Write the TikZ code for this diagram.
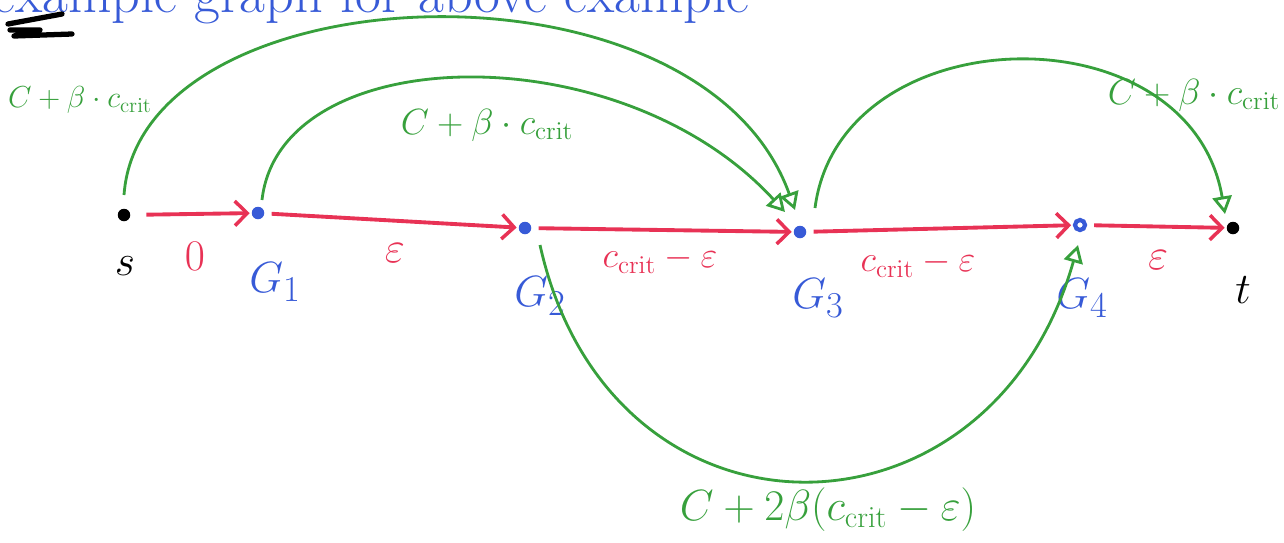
\documentclass[tikz,border=0pt]{standalone}
\usetikzlibrary{arrows.meta}
\definecolor{gr}{RGB}{55,160,60}
\definecolor{rd}{RGB}{232,50,85}
\definecolor{bl}{RGB}{55,90,215}
\begin{document}
\begin{tikzpicture}[x=0.02cm,y=-0.02cm,
  dot/.style={circle,fill,inner sep=0pt,minimum size=0.25cm},
  ring/.style={circle,draw=bl,fill=white,line width=2.4pt,inner sep=0pt,minimum size=0.2cm},
  redarr/.style={rd,line width=2.2pt,-{Straight Barb[length=7pt,width=14pt,line width=2pt]},shorten >=1pt,shorten <=4pt},
  grarr/.style={gr,line width=1.6pt,-{Triangle[open,length=10pt,width=11pt,line width=1.6pt]}},
  lab/.style={font=\Huge},
  elab/.style={font=\fontsize{22}{26}\selectfont},
  glab/.style={gr,font=\huge},
]
\useasboundingbox (0,0) rectangle (1284,542);
\clip (0,0) rectangle (1284,542);
% title (cut off at top, as in the original)
\node[anchor=base west,bl,font=\fontsize{32}{34}\selectfont,inner sep=0pt] (title) at (-8,12) {example graph for above example};
\draw[black,line width=3pt,line cap=round,line join=round] (8,24) -- (62,14) (10,30) -- (40,30) -- (14,36) -- (72,34);
% vertices
\node[dot,black] (s) at (124,215) {};
\node[dot,bl] (G1) at (258,213) {};
\node[dot,bl] (G2) at (525,228) {};
\node[dot,bl] (G3) at (800,232) {};
\node[ring] (G4) at (1080,225) {};
\node[dot,black] (t) at (1233,228) {};
% vertex labels
\node[lab] (ls) at (125,266) {$s$};
\node[lab,bl] (lG1) at (275,282) {$G_1$};
\node[lab,bl] (lG2) at (540,296) {$G_2$};
\node[lab,bl] (lG3) at (818,298) {$G_3$};
\node[lab,bl] (lG4) at (1082,298) {$G_4$};
\node[lab] (lt) at (1243,290) {$t$};
% red edges
\draw[redarr,shorten <=9pt] (s) -- (G1);
\draw[redarr] (G1) -- (G2);
\draw[redarr] (G2) -- (G3);
\draw[redarr] (G3) -- (G4);
\draw[redarr] (G4) -- (t);
\node[lab,rd] (e1) at (195,256) {$0$};
\node[lab,rd] (e2) at (395,253) {$\varepsilon$};
\node[elab,rd] (e3) at (660,260) {$c_{\mathrm{crit}}-\varepsilon$};
\node[elab,rd] (e4) at (918,264) {$c_{\mathrm{crit}}-\varepsilon$};
\node[lab,rd] (e5) at (1158,260) {$\varepsilon$};
% green edges
\draw[grarr] ([shift={(0,-20)}]s.center) .. controls +(16,-225) and +(-95,-265) .. ([shift={(-5,-22)}]G3.center);
\draw[grarr] ([shift={(4,-13)}]G1.center) .. controls +(18,-160) and +(-165,-180) .. ([shift={(-15,-20)}]G3.center);
\draw[grarr] ([shift={(15,-24)}]G3.center) .. controls +(25,-193) and +(-35,-207) .. ([shift={(-8,-14)}]t.center);
\draw[grarr] ([shift={(15,17)}]G2.center) .. controls +(70,315) and +(-88,312) .. ([shift={(-2,20)}]G4.center);
\node[gr,font=\LARGE] (g1) at (80,100) {$C+\beta\cdot c_{\mathrm{crit}}$};
\node[glab] (g2) at (487,125) {$C+\beta\cdot c_{\mathrm{crit}}$};
\node[glab] (g3) at (1194,95) {$C+\beta\cdot c_{\mathrm{crit}}$};
\node[gr,font=\fontsize{25}{28}\selectfont] (g4) at (828,510) {$C+2\beta(c_{\mathrm{crit}}-\varepsilon)$};
\end{tikzpicture}
\end{document}
